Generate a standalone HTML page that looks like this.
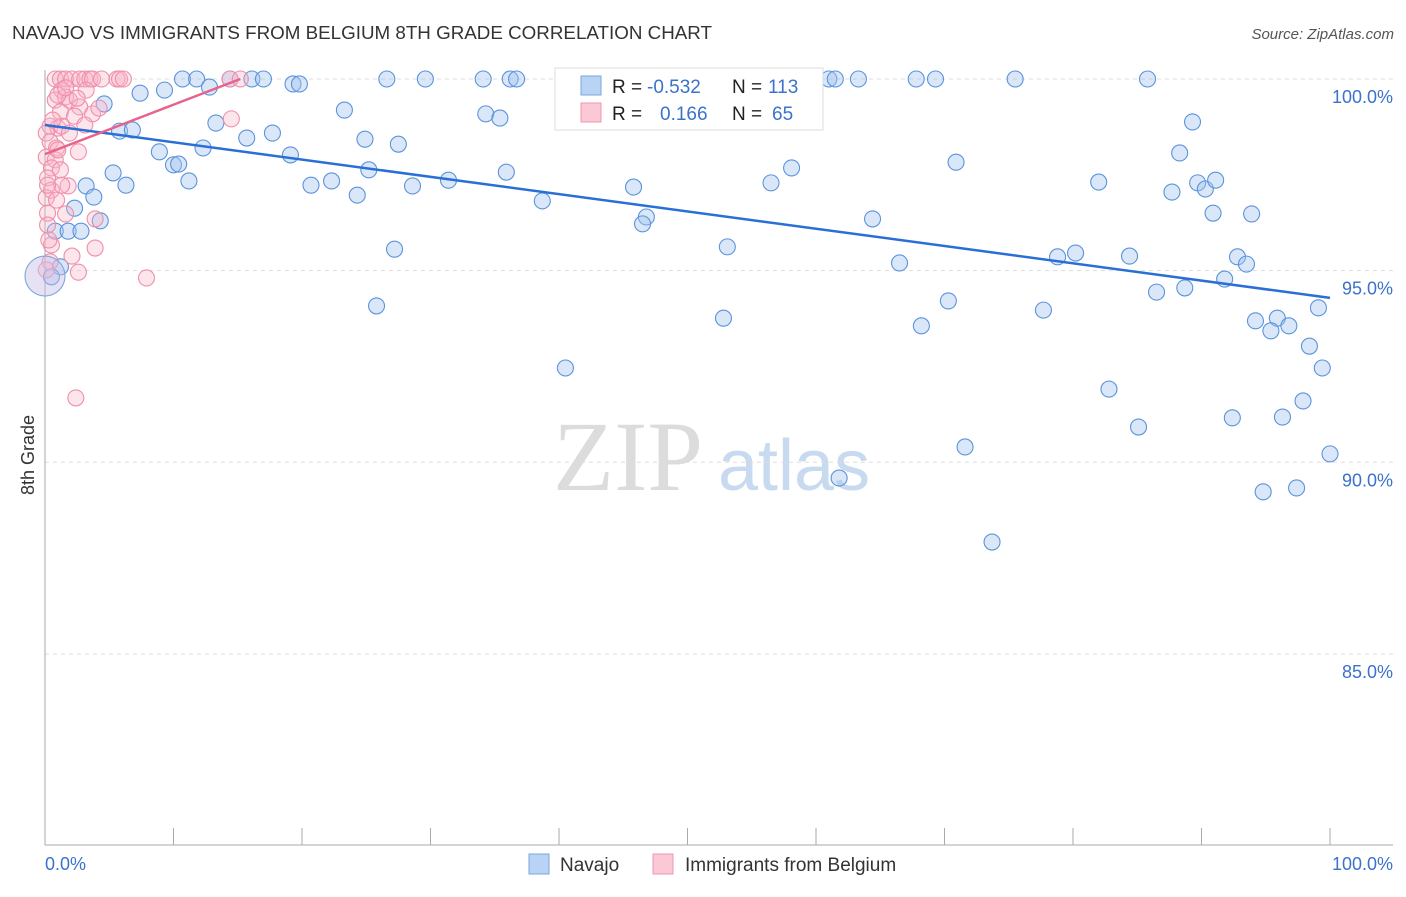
<!DOCTYPE html>
<html><head><meta charset="utf-8"><style>
body{margin:0;background:#fff;font-family:"Liberation Sans",sans-serif}
</style></head><body>
<svg id="chart" width="1406" height="892" xmlns="http://www.w3.org/2000/svg" font-family="Liberation Sans, sans-serif">
<text x="12" y="39" font-size="18" fill="#333" textLength="700" lengthAdjust="spacingAndGlyphs">NAVAJO VS IMMIGRANTS FROM BELGIUM 8TH GRADE CORRELATION CHART</text>
<text x="1394" y="39" font-size="15" fill="#555" font-style="italic" text-anchor="end">Source: ZipAtlas.com</text>
<g>
<text x="553" y="490" font-size="100" fill="#dcdcdc" style="font-family:'Liberation Serif',serif">ZIP</text>
<text x="718" y="490" font-size="72" fill="#c8daf0">atlas</text>
</g>
<g id="grid"></g>
<g id="axes"></g>
<g id="marks"></g>
<g>
<rect x="555" y="68" width="268" height="62" fill="#fff" stroke="#ddd"/>
<rect x="581" y="76" width="20" height="19" fill="#b8d3f4" stroke="#7aa7e0"/>
<rect x="581" y="103" width="20" height="19" fill="#fbc8d6" stroke="#ef95b0"/>
<text x="612" y="93" font-size="19" fill="#222">R = </text><text x="647" y="93" font-size="19" fill="#3a72cc">-0.532</text>
<text x="732" y="93" font-size="19" fill="#222">N = </text><text x="768" y="93" font-size="19" fill="#3a72cc">113</text>
<text x="612" y="120" font-size="19" fill="#222">R = </text><text x="660" y="120" font-size="19" fill="#3a72cc">0.166</text>
<text x="732" y="120" font-size="19" fill="#222">N = </text><text x="772" y="120" font-size="19" fill="#3a72cc">65</text>
</g>
<g>
<rect x="529" y="854" width="20" height="20" fill="#b8d3f4" stroke="#7aa7e0"/>
<text x="560" y="871" font-size="19" fill="#333">Navajo</text>
<rect x="653" y="854" width="20" height="20" fill="#fbc8d6" stroke="#ef95b0"/>
<text x="685" y="871" font-size="19" fill="#333">Immigrants from Belgium</text>
</g>
<text transform="translate(34,455) rotate(-90)" font-size="18" fill="#333" text-anchor="middle">8th Grade</text>
</svg>
<script>
const yTicks=[100,95,90,85];
const yTickLabels=["100.0%","95.0%","90.0%","85.0%"];
const xTickVals=[0,10,20,30,40,50,60,70,80,90,100];
const navajoX=[10.7,11.8,14.4,16.1,17.0,19.3,19.8,26.6,29.6,34.1,36.2,36.7,52.4,61.0,61.5,63.3,67.8,69.3,75.5,85.8,
7.4,9.3,12.8,4.6,23.3,34.3,35.4,13.3,89.3,5.8,6.8,15.7,17.7,24.9,27.5,8.9,12.3,19.1,88.3,70.9,10.0,10.4,25.2,35.9,58.1,5.3,11.2,6.3,20.7,22.3,28.6,31.4,45.8,56.5,82.0,87.7,89.7,90.3,91.1,3.2,3.8,24.3,38.7,2.3,90.9,93.9,64.4,46.8,46.5,4.3,0.8,1.8,2.8,53.1,27.2,78.8,80.2,84.4,92.8,93.5,66.5,1.2,0.5,91.8,86.5,88.7,25.8,70.3,77.7,99.1,52.8,68.2,94.2,95.9,95.4,96.8,98.4,40.5,99.4,82.8,97.9,92.4,96.3,85.1,71.6,100,61.8,94.8,97.4,73.7];
const navajoY=[100,100,100,100,100,99.87,99.87,100,100,100,100,100,100,100,100,100,100,100,100,100,
99.63,99.71,99.79,99.35,99.19,99.09,98.98,98.85,98.88,98.64,98.67,98.46,98.59,98.43,98.30,98.10,98.20,98.02,98.07,97.83,97.76,97.78,97.63,97.57,97.68,97.55,97.34,97.23,97.23,97.34,97.21,97.36,97.18,97.29,97.31,97.05,97.29,97.13,97.36,97.21,96.92,96.97,96.82,96.63,96.50,96.48,96.35,96.40,96.22,96.30,96.03,96.03,96.03,95.62,95.56,95.36,95.46,95.38,95.36,95.17,95.20,95.10,94.84,94.78,94.44,94.55,94.08,94.21,93.97,94.03,93.76,93.56,93.69,93.76,93.43,93.56,93.03,92.46,92.46,91.91,91.60,91.16,91.18,90.92,90.40,90.22,89.59,89.23,89.33,87.92];
const belgX=[0.8,1.2,1.6,2.1,2.7,3.1,3.5,3.7,4.4,5.6,5.8,6.1,14.4,15.2,
1.3,3.2,0.8,1.6,1.9,2.7,1.2,2.3,3.7,0.4,1.0,1.3,0.1,0.4,0.9,2.6,0.1,0.8,0.5,0.2,1.8,0.5,0.1,0.9,0.2,1.6,3.9,0.2,0.5,3.9,2.1,0.4,2.6,0.1,7.9,2.4,14.5,1.0,1.3,0.3,1.9,1.0,1.6,0.6,2.5,4.2,1.2,3.1,0.2];
const belgY=[100,100,100,100,100,100,100,100,100,100,100,100,100,100,
99.71,99.71,99.45,99.53,99.45,99.27,99.14,99.03,99.09,98.77,98.72,98.77,98.59,98.36,98.20,98.10,97.96,97.89,97.68,97.42,97.21,97.10,96.90,96.84,96.50,96.48,96.35,96.19,95.67,95.59,95.38,95.23,94.96,95.02,94.81,91.68,98.96,98.15,97.23,95.80,98.59,99.58,99.77,98.93,99.50,99.24,97.63,98.80,97.23];
const navajoTrend=[98.8,94.29];
const belgTrend=[98.04,100,15.2];
const NS="http://www.w3.org/2000/svg";
function xs(v){return 45+v*12.85;}
function ys(v){return 79+(100-v)*38.33;}
function mk(tag,attrs,parent){const e=document.createElementNS(NS,tag);for(const k in attrs)e.setAttribute(k,attrs[k]);parent.appendChild(e);return e;}
const grid=document.getElementById('grid'),axes=document.getElementById('axes'),marks=document.getElementById('marks');
yTicks.forEach((t,i)=>{
 const l=mk('line',{x1:45,x2:1395,y1:ys(t),y2:ys(t),stroke:'#ddd','stroke-dasharray':'4,4'},grid);
 
 
 const tx=mk('text',{x:1393,y:ys(t)+24,'font-size':18,fill:'#3a72cc','text-anchor':'end'},axes);
 tx.textContent=yTickLabels[i];
 
 
});
let a=mk('line',{x1:45,x2:45,y1:70,y2:845,stroke:'#aaa'},axes);


a=mk('line',{x1:45,x2:1393,y1:845,y2:845,stroke:'#aaa'},axes);


xTickVals.forEach(v=>{
 const t=mk('line',{x1:xs(v),x2:xs(v),y1:828,y2:845,stroke:'#aaa'},axes);
 
 
});
let xl=mk('text',{x:45,y:870,'font-size':18,fill:'#3a72cc'},axes);xl.textContent='0.0%';


xl=mk('text',{x:1393,y:870,'font-size':18,fill:'#3a72cc','text-anchor':'end'},axes);xl.textContent='100.0%';


navajoX.forEach((x,i)=>{
 const c=mk('circle',{cx:xs(x),cy:ys(navajoY[i]),r:8,fill:'rgba(160,196,240,0.4)',stroke:'#5b93dc','stroke-width':1.1},marks);
 
 
});
belgX.forEach((x,i)=>{
 const c=mk('circle',{cx:xs(x),cy:ys(belgY[i]),r:8,fill:'rgba(248,180,200,0.35)',stroke:'#ee8fab','stroke-width':1.1},marks);
 
 
});
let big=mk('circle',{cx:xs(0),cy:ys(94.86),r:20,fill:'rgba(200,190,230,0.45)',stroke:'#7aa7e0','stroke-width':1.1},marks);


let tl=mk('line',{x1:xs(0),y1:ys(navajoTrend[0]),x2:xs(100),y2:ys(navajoTrend[1]),stroke:'#2a6fd6','stroke-width':2.5},marks);


tl=mk('line',{x1:xs(0),y1:ys(belgTrend[0]),x2:xs(belgTrend[2]),y2:ys(belgTrend[1]),stroke:'#e8638c','stroke-width':2.5},marks);


</script>
</body></html>
